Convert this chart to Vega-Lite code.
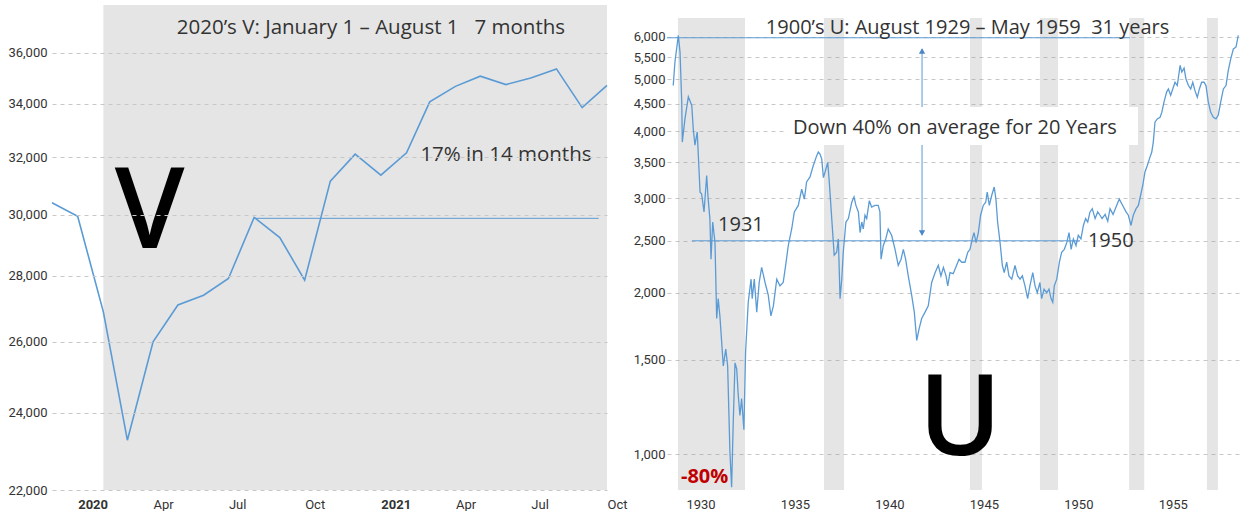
{
  "$schema": "https://vega.github.io/schema/vega-lite/v6.json",
  "background": "white",
  "padding": {"left": 7, "top": 5, "right": 0, "bottom": 0},
  "bounds": "flush",
  "spacing": 60,
  "config": {
    "view": {"stroke": null},
    "font": "Open Sans",
    "axis": {"labelFont": "Roboto", "labelFontSize": 13, "labelColor": "#333333", "domain": false, "ticks": false, "labelOverlap": false},
    "axisX": {"grid": false, "labelPadding": 8, "labelAlign": "left", "labelDx": 2, "labelFlush": false},
    "axisY": {"grid": true, "gridDash": [4, 4], "gridColor": "#c8c8c8", "gridWidth": 1}
  },
  "datasets": {
    "leftLine": [
      {"date": "2019-12-01T00:00:00", "value": 30410},
      {"date": "2020-01-01T00:00:00", "value": 29950},
      {"date": "2020-02-01T00:00:00", "value": 26890},
      {"date": "2020-03-01T00:00:00", "value": 23270},
      {"date": "2020-04-01T00:00:00", "value": 26000},
      {"date": "2020-05-01T00:00:00", "value": 27100},
      {"date": "2020-06-01T00:00:00", "value": 27400},
      {"date": "2020-07-01T00:00:00", "value": 27920},
      {"date": "2020-08-01T00:00:00", "value": 29910},
      {"date": "2020-09-01T00:00:00", "value": 29240},
      {"date": "2020-10-01T00:00:00", "value": 27870},
      {"date": "2020-11-01T00:00:00", "value": 31160},
      {"date": "2020-12-01T00:00:00", "value": 32120},
      {"date": "2021-01-01T00:00:00", "value": 31370},
      {"date": "2021-02-01T00:00:00", "value": 32170},
      {"date": "2021-03-01T00:00:00", "value": 34070},
      {"date": "2021-04-01T00:00:00", "value": 34670},
      {"date": "2021-05-01T00:00:00", "value": 35070},
      {"date": "2021-06-01T00:00:00", "value": 34740},
      {"date": "2021-07-01T00:00:00", "value": 35000},
      {"date": "2021-08-01T00:00:00", "value": 35360},
      {"date": "2021-09-01T00:00:00", "value": 33850},
      {"date": "2021-10-01T00:00:00", "value": 34710}
    ],
    "leftBand": [{"date": "2020-02-01T00:00:00", "date2": "2021-10-01T00:00:00"}],
    "leftRef": [{"date": "2020-08-01T00:00:00", "date2": "2021-09-21T00:00:00", "value": 29880}],
    "leftText": [
      {"date": "2020-12-20T00:00:00", "value": 37020, "label": "2020’s V: January 1 – August 1\u00a0\u00a0 7 months"},
      {"date": "2021-06-01T00:00:00", "value": 32080, "label": "17% in 14 months"}
    ],
    "leftBig": [{"date": "2020-03-28T00:00:00", "value": 28890, "label": "V"}],
    "rightLine": [
      {"t":1929.33,"value":4870},{"t":1929.42,"value":5390},{"t":1929.60,"value":6040},{"t":1929.69,"value":5620},{"t":1929.78,"value":4540},{"t":1929.81,"value":3820},{"t":1929.95,"value":4220},{"t":1930.13,"value":4640},{"t":1930.31,"value":4470},{"t":1930.39,"value":4040},{"t":1930.48,"value":3770},{"t":1930.60,"value":3990},{"t":1930.75,"value":3080},{"t":1930.83,"value":3060},{"t":1930.96,"value":2830},{"t":1931.10,"value":3310},{"t":1931.18,"value":2990},{"t":1931.27,"value":2750},{"t":1931.33,"value":2310},{"t":1931.42,"value":2710},{"t":1931.54,"value":2480},{"t":1931.63,"value":1790},{"t":1931.71,"value":1950},{"t":1931.80,"value":1810},{"t":1931.98,"value":1460},{"t":1932.11,"value":1570},{"t":1932.21,"value":1460},{"t":1932.33,"value":1010},{"t":1932.42,"value":867},{"t":1932.51,"value":1160},{"t":1932.60,"value":1480},{"t":1932.69,"value":1440},{"t":1932.77,"value":1290},{"t":1932.86,"value":1180},{"t":1932.95,"value":1270},{"t":1933.07,"value":1110},{"t":1933.16,"value":1550},{"t":1933.30,"value":1920},{"t":1933.45,"value":2120},{"t":1933.51,"value":1950},{"t":1933.62,"value":2120},{"t":1933.75,"value":1840},{"t":1933.88,"value":2090},{"t":1934.01,"value":2230},{"t":1934.19,"value":2090},{"t":1934.36,"value":1980},{"t":1934.50,"value":1810},{"t":1934.63,"value":1890},{"t":1934.81,"value":2120},{"t":1934.98,"value":2060},{"t":1935.15,"value":2090},{"t":1935.28,"value":2250},{"t":1935.42,"value":2450},{"t":1935.60,"value":2630},{"t":1935.74,"value":2830},{"t":1935.95,"value":2910},{"t":1936.13,"value":3120},{"t":1936.27,"value":2990},{"t":1936.39,"value":3220},{"t":1936.57,"value":3290},{"t":1936.74,"value":3450},{"t":1936.92,"value":3600},{"t":1937.01,"value":3660},{"t":1937.10,"value":3630},{"t":1937.19,"value":3550},{"t":1937.28,"value":3280},{"t":1937.51,"value":3500},{"t":1937.59,"value":3220},{"t":1937.72,"value":2750},{"t":1937.85,"value":2350},{"t":1937.98,"value":2380},{"t":1938.07,"value":2520},{"t":1938.16,"value":1950},{"t":1938.25,"value":2120},{"t":1938.33,"value":2380},{"t":1938.47,"value":2710},{"t":1938.60,"value":2750},{"t":1938.78,"value":2950},{"t":1938.90,"value":3020},{"t":1939.00,"value":2910},{"t":1939.13,"value":2830},{"t":1939.22,"value":2590},{"t":1939.31,"value":2710},{"t":1939.39,"value":2630},{"t":1939.48,"value":2790},{"t":1939.57,"value":2750},{"t":1939.71,"value":2970},{"t":1939.83,"value":2890},{"t":1940.01,"value":2910},{"t":1940.18,"value":2910},{"t":1940.27,"value":2830},{"t":1940.33,"value":2310},{"t":1940.45,"value":2450},{"t":1940.58,"value":2520},{"t":1940.71,"value":2630},{"t":1940.89,"value":2560},{"t":1941.07,"value":2410},{"t":1941.24,"value":2250},{"t":1941.39,"value":2310},{"t":1941.51,"value":2410},{"t":1941.63,"value":2310},{"t":1941.77,"value":2150},{"t":1941.95,"value":1980},{"t":1942.09,"value":1840},{"t":1942.22,"value":1630},{"t":1942.34,"value":1710},{"t":1942.48,"value":1790},{"t":1942.66,"value":1840},{"t":1942.83,"value":1890},{"t":1943.01,"value":2090},{"t":1943.19,"value":2180},{"t":1943.36,"value":2250},{"t":1943.50,"value":2150},{"t":1943.63,"value":2230},{"t":1943.77,"value":2150},{"t":1943.86,"value":2060},{"t":1943.98,"value":2180},{"t":1944.15,"value":2170},{"t":1944.33,"value":2250},{"t":1944.46,"value":2310},{"t":1944.60,"value":2280},{"t":1944.77,"value":2280},{"t":1944.92,"value":2380},{"t":1945.04,"value":2410},{"t":1945.16,"value":2520},{"t":1945.25,"value":2590},{"t":1945.36,"value":2480},{"t":1945.48,"value":2590},{"t":1945.60,"value":2790},{"t":1945.74,"value":2910},{"t":1945.87,"value":2950},{"t":1945.95,"value":3080},{"t":1946.06,"value":2910},{"t":1946.19,"value":3040},{"t":1946.32,"value":3150},{"t":1946.41,"value":2990},{"t":1946.50,"value":2710},{"t":1946.63,"value":2480},{"t":1946.75,"value":2250},{"t":1946.85,"value":2180},{"t":1946.98,"value":2280},{"t":1947.10,"value":2150},{"t":1947.25,"value":2120},{"t":1947.42,"value":2250},{"t":1947.56,"value":2150},{"t":1947.69,"value":2120},{"t":1947.81,"value":2150},{"t":1947.95,"value":2060},{"t":1948.09,"value":1950},{"t":1948.21,"value":2060},{"t":1948.36,"value":2180},{"t":1948.48,"value":2060},{"t":1948.60,"value":2000},{"t":1948.74,"value":2090},{"t":1948.83,"value":1950},{"t":1948.96,"value":2030},{"t":1949.10,"value":2000},{"t":1949.22,"value":2030},{"t":1949.33,"value":1950},{"t":1949.42,"value":1920},{"t":1949.50,"value":2060},{"t":1949.63,"value":2120},{"t":1949.77,"value":2280},{"t":1949.89,"value":2380},{"t":1950.03,"value":2410},{"t":1950.16,"value":2480},{"t":1950.28,"value":2590},{"t":1950.39,"value":2410},{"t":1950.51,"value":2520},{"t":1950.65,"value":2450},{"t":1950.77,"value":2560},{"t":1950.91,"value":2520},{"t":1951.04,"value":2670},{"t":1951.16,"value":2750},{"t":1951.27,"value":2710},{"t":1951.39,"value":2830},{"t":1951.51,"value":2870},{"t":1951.66,"value":2750},{"t":1951.80,"value":2830},{"t":1951.92,"value":2790},{"t":1952.03,"value":2750},{"t":1952.19,"value":2800},{"t":1952.33,"value":2720},{"t":1952.45,"value":2870},{"t":1952.61,"value":2800},{"t":1952.80,"value":2910},{"t":1952.94,"value":2990},{"t":1953.12,"value":2910},{"t":1953.30,"value":2830},{"t":1953.42,"value":2790},{"t":1953.56,"value":2670},{"t":1953.68,"value":2790},{"t":1953.83,"value":2870},{"t":1953.95,"value":2910},{"t":1954.07,"value":3040},{"t":1954.18,"value":3170},{"t":1954.30,"value":3360},{"t":1954.42,"value":3450},{"t":1954.53,"value":3550},{"t":1954.66,"value":3660},{"t":1954.74,"value":3820},{"t":1954.83,"value":4160},{"t":1954.95,"value":4220},{"t":1955.10,"value":4250},{"t":1955.19,"value":4340},{"t":1955.31,"value":4540},{"t":1955.45,"value":4740},{"t":1955.54,"value":4800},{"t":1955.66,"value":4670},{"t":1955.77,"value":4800},{"t":1955.89,"value":4940},{"t":1956.01,"value":4870},{"t":1956.16,"value":5310},{"t":1956.25,"value":5160},{"t":1956.37,"value":5250},{"t":1956.47,"value":5010},{"t":1956.60,"value":4870},{"t":1956.72,"value":4800},{"t":1956.83,"value":4940},{"t":1956.95,"value":4760},{"t":1957.07,"value":4630},{"t":1957.18,"value":4800},{"t":1957.30,"value":4940},{"t":1957.43,"value":4940},{"t":1957.53,"value":4870},{"t":1957.65,"value":4540},{"t":1957.78,"value":4340},{"t":1957.92,"value":4250},{"t":1958.06,"value":4220},{"t":1958.18,"value":4290},{"t":1958.31,"value":4540},{"t":1958.45,"value":4800},{"t":1958.59,"value":4870},{"t":1958.71,"value":5200},{"t":1958.84,"value":5460},{"t":1958.98,"value":5700},{"t":1959.12,"value":5750},{"t":1959.24,"value":6040}
    ],
    "rightBands": [
      {"t": 1929.58, "t2": 1933.13},
      {"t": 1937.31, "t2": 1938.37},
      {"t": 1945.04, "t2": 1945.67},
      {"t": 1948.74, "t2": 1949.70},
      {"t": 1953.46, "t2": 1954.26},
      {"t": 1957.58, "t2": 1958.16}
    ],
    "rightRefs": [
      {"t": 1929.0, "t2": 1953.51, "value": 5980},
      {"t": 1930.32, "t2": 1950.86, "value": 2500}
    ],
    "rightArrow": [{"t": 1942.5, "value": 2560, "value2": 5700}],
    "rightHeads": [
      {"t": 1942.5, "value": 5650, "end": "top"},
      {"t": 1942.5, "value": 2586, "end": "bottom"}
    ],
    "rightBox": [{"t": 1935.3, "t2": 1953.93, "value": 3773, "value2": 4442}],
    "rightCenterText": [
      {"t": 1944.91, "value": 6237, "label": "1900’s U: August 1929 – May 1959\u00a0 31 years"},
      {"t": 1944.24, "value": 4059, "label": "Down 40% on average for 20 Years"}
    ],
    "rightLeftText": [
      {"t": 1931.70, "value": 2676, "label": "1931"},
      {"t": 1951.28, "value": 2500, "label": "1950"}
    ],
    "rightRed": [{"t": 1929.74, "value": 906, "label": "-80%"}],
    "rightBig": [{"t": 1944.51, "value": 996, "label": "U"}]
  },
  "hconcat": [
    {
      "width": 555,
      "height": 485,
      "encoding": {
        "x": {
          "field": "date", "type": "temporal",
          "scale": {"domain": [{"year": 2019, "month": 12, "date": 1}, {"year": 2021, "month": 10, "date": 1}], "nice": false},
          "axis": {
            "title": null,
            "values": [
              {"year": 2020, "month": 1, "date": 1}, {"year": 2020, "month": 4, "date": 1},
              {"year": 2020, "month": 7, "date": 1}, {"year": 2020, "month": 10, "date": 1},
              {"year": 2021, "month": 1, "date": 1}, {"year": 2021, "month": 4, "date": 1},
              {"year": 2021, "month": 7, "date": 1}, {"year": 2021, "month": 10, "date": 1}
            ],
            "labelExpr": "month(datum.value) === 0 ? timeFormat(datum.value, '%Y') : timeFormat(datum.value, '%b')",
            "labelFontWeight": {"condition": {"test": "month(datum.value) === 0", "value": "bold"}, "value": "normal"}
          }
        }
      },
      "layer": [
        {
          "data": {"name": "leftBand"},
          "mark": {"type": "rect", "color": "#e5e5e5"},
          "encoding": {"x2": {"field": "date2"}}
        },
        {
          "data": {"name": "leftRef"},
          "mark": {"type": "rule", "color": "#5b9bd5", "strokeWidth": 1},
          "encoding": {
            "x2": {"field": "date2"},
            "y": {"field": "value", "type": "quantitative", "scale": {"type": "log", "domain": [22000, 38000], "nice": false}, "axis": {"title": null, "values": [22000, 24000, 26000, 28000, 30000, 32000, 34000, 36000], "format": ",", "labelPadding": 5, "zindex": 1}}
          }
        },
        {
          "data": {"name": "leftLine"},
          "mark": {"type": "line", "color": "#5b9bd5", "strokeWidth": 1.6},
          "encoding": {
            "y": {"field": "value", "type": "quantitative", "scale": {"type": "log", "domain": [22000, 38000], "nice": false}, "axis": {"title": null, "values": [22000, 24000, 26000, 28000, 30000, 32000, 34000, 36000], "format": ",", "labelPadding": 5, "zindex": 1}}
          }
        },
        {
          "data": {"name": "leftText"},
          "mark": {"type": "text", "font": "Open Sans", "fontSize": 20.5, "color": "#333333", "align": "center", "baseline": "middle"},
          "encoding": {
            "text": {"field": "label"},
            "y": {"field": "value", "type": "quantitative", "scale": {"type": "log", "domain": [22000, 38000], "nice": false}, "axis": {"title": null, "values": [22000, 24000, 26000, 28000, 30000, 32000, 34000, 36000], "format": ",", "labelPadding": 5, "zindex": 1}}
          }
        },
        {
          "data": {"name": "leftBig"},
          "mark": {"type": "text", "font": "Open Sans", "fontSize": 112, "fontWeight": 600, "color": "#000000", "align": "center", "baseline": "alphabetic"},
          "encoding": {
            "text": {"field": "label"},
            "y": {"field": "value", "type": "quantitative", "scale": {"type": "log", "domain": [22000, 38000], "nice": false}, "axis": {"title": null, "values": [22000, 24000, 26000, 28000, 30000, 32000, 34000, 36000], "format": ",", "labelPadding": 5, "zindex": 1}}
          }
        }
      ]
    },
    {
      "width": 573,
      "height": 485,
      "encoding": {
        "x": {
          "field": "t", "type": "quantitative",
          "scale": {"domain": [1929.0, 1959.33], "nice": false, "zero": false},
          "axis": {"title": null, "values": [1930, 1935, 1940, 1945, 1950, 1955], "format": "d"}
        }
      },
      "layer": [
        {
          "data": {"name": "rightBands"},
          "mark": {"type": "rect", "color": "#999999", "opacity": 0.25},
          "encoding": {"x2": {"field": "t2"}, "y": {"datum": 6510, "type": "quantitative"}, "y2": {"datum": 857}}
        },
        {
          "data": {"name": "rightRefs"},
          "mark": {"type": "rule", "color": "#5b9bd5", "strokeWidth": 1},
          "encoding": {
            "x2": {"field": "t2"},
            "y": {"field": "value", "type": "quantitative", "scale": {"type": "log", "domain": [857, 6884], "nice": false}, "axis": {"title": null, "values": [1000, 1500, 2000, 2500, 3000, 3500, 4000, 4500, 5000, 5500, 6000], "format": ",", "labelPadding": 2}}
          }
        },
        {
          "data": {"name": "rightArrow"},
          "mark": {"type": "rule", "color": "#5b9bd5", "strokeWidth": 1},
          "encoding": {
            "y": {"field": "value", "type": "quantitative", "scale": {"type": "log", "domain": [857, 6884], "nice": false}, "axis": {"title": null, "values": [1000, 1500, 2000, 2500, 3000, 3500, 4000, 4500, 5000, 5500, 6000], "format": ",", "labelPadding": 2}},
            "y2": {"field": "value2"}
          }
        },
        {
          "data": {"name": "rightHeads"},
          "mark": {"type": "point", "filled": true, "color": "#4a86c8", "size": 40, "opacity": 1},
          "encoding": {
            "y": {"field": "value", "type": "quantitative", "scale": {"type": "log", "domain": [857, 6884], "nice": false}, "axis": {"title": null, "values": [1000, 1500, 2000, 2500, 3000, 3500, 4000, 4500, 5000, 5500, 6000], "format": ",", "labelPadding": 2}},
            "shape": {"field": "end", "type": "nominal", "scale": {"domain": ["top", "bottom"], "range": ["triangle-up", "triangle-down"]}, "legend": null}
          }
        },
        {
          "data": {"name": "rightBox"},
          "mark": {"type": "rect", "color": "white"},
          "encoding": {
            "x2": {"field": "t2"},
            "y": {"field": "value", "type": "quantitative", "scale": {"type": "log", "domain": [857, 6884], "nice": false}, "axis": {"title": null, "values": [1000, 1500, 2000, 2500, 3000, 3500, 4000, 4500, 5000, 5500, 6000], "format": ",", "labelPadding": 2}},
            "y2": {"field": "value2"}
          }
        },
        {
          "data": {"name": "rightLine"},
          "mark": {"type": "line", "color": "#5b9bd5", "strokeWidth": 1.3},
          "encoding": {
            "y": {"field": "value", "type": "quantitative", "scale": {"type": "log", "domain": [857, 6884], "nice": false}, "axis": {"title": null, "values": [1000, 1500, 2000, 2500, 3000, 3500, 4000, 4500, 5000, 5500, 6000], "format": ",", "labelPadding": 2}}
          }
        },
        {
          "data": {"name": "rightCenterText"},
          "mark": {"type": "text", "font": "Open Sans", "fontSize": 20, "color": "#333333", "align": "center", "baseline": "middle"},
          "encoding": {
            "text": {"field": "label"},
            "y": {"field": "value", "type": "quantitative", "scale": {"type": "log", "domain": [857, 6884], "nice": false}, "axis": {"title": null, "values": [1000, 1500, 2000, 2500, 3000, 3500, 4000, 4500, 5000, 5500, 6000], "format": ",", "labelPadding": 2}}
          }
        },
        {
          "data": {"name": "rightLeftText"},
          "mark": {"type": "text", "font": "Open Sans", "fontSize": 20, "color": "#333333", "align": "left", "baseline": "middle"},
          "encoding": {
            "text": {"field": "label"},
            "y": {"field": "value", "type": "quantitative", "scale": {"type": "log", "domain": [857, 6884], "nice": false}, "axis": {"title": null, "values": [1000, 1500, 2000, 2500, 3000, 3500, 4000, 4500, 5000, 5500, 6000], "format": ",", "labelPadding": 2}}
          }
        },
        {
          "data": {"name": "rightRed"},
          "mark": {"type": "text", "font": "Open Sans", "fontSize": 20, "fontWeight": "bold", "color": "#c00000", "align": "left", "baseline": "middle"},
          "encoding": {
            "text": {"field": "label"},
            "y": {"field": "value", "type": "quantitative", "scale": {"type": "log", "domain": [857, 6884], "nice": false}, "axis": {"title": null, "values": [1000, 1500, 2000, 2500, 3000, 3500, 4000, 4500, 5000, 5500, 6000], "format": ",", "labelPadding": 2}}
          }
        },
        {
          "data": {"name": "rightBig"},
          "mark": {"type": "text", "font": "Open Sans", "fontSize": 112, "fontWeight": 600, "color": "#000000", "align": "center", "baseline": "alphabetic"},
          "encoding": {
            "text": {"field": "label"},
            "y": {"field": "value", "type": "quantitative", "scale": {"type": "log", "domain": [857, 6884], "nice": false}, "axis": {"title": null, "values": [1000, 1500, 2000, 2500, 3000, 3500, 4000, 4500, 5000, 5500, 6000], "format": ",", "labelPadding": 2}}
          }
        }
      ]
    }
  ]
}
